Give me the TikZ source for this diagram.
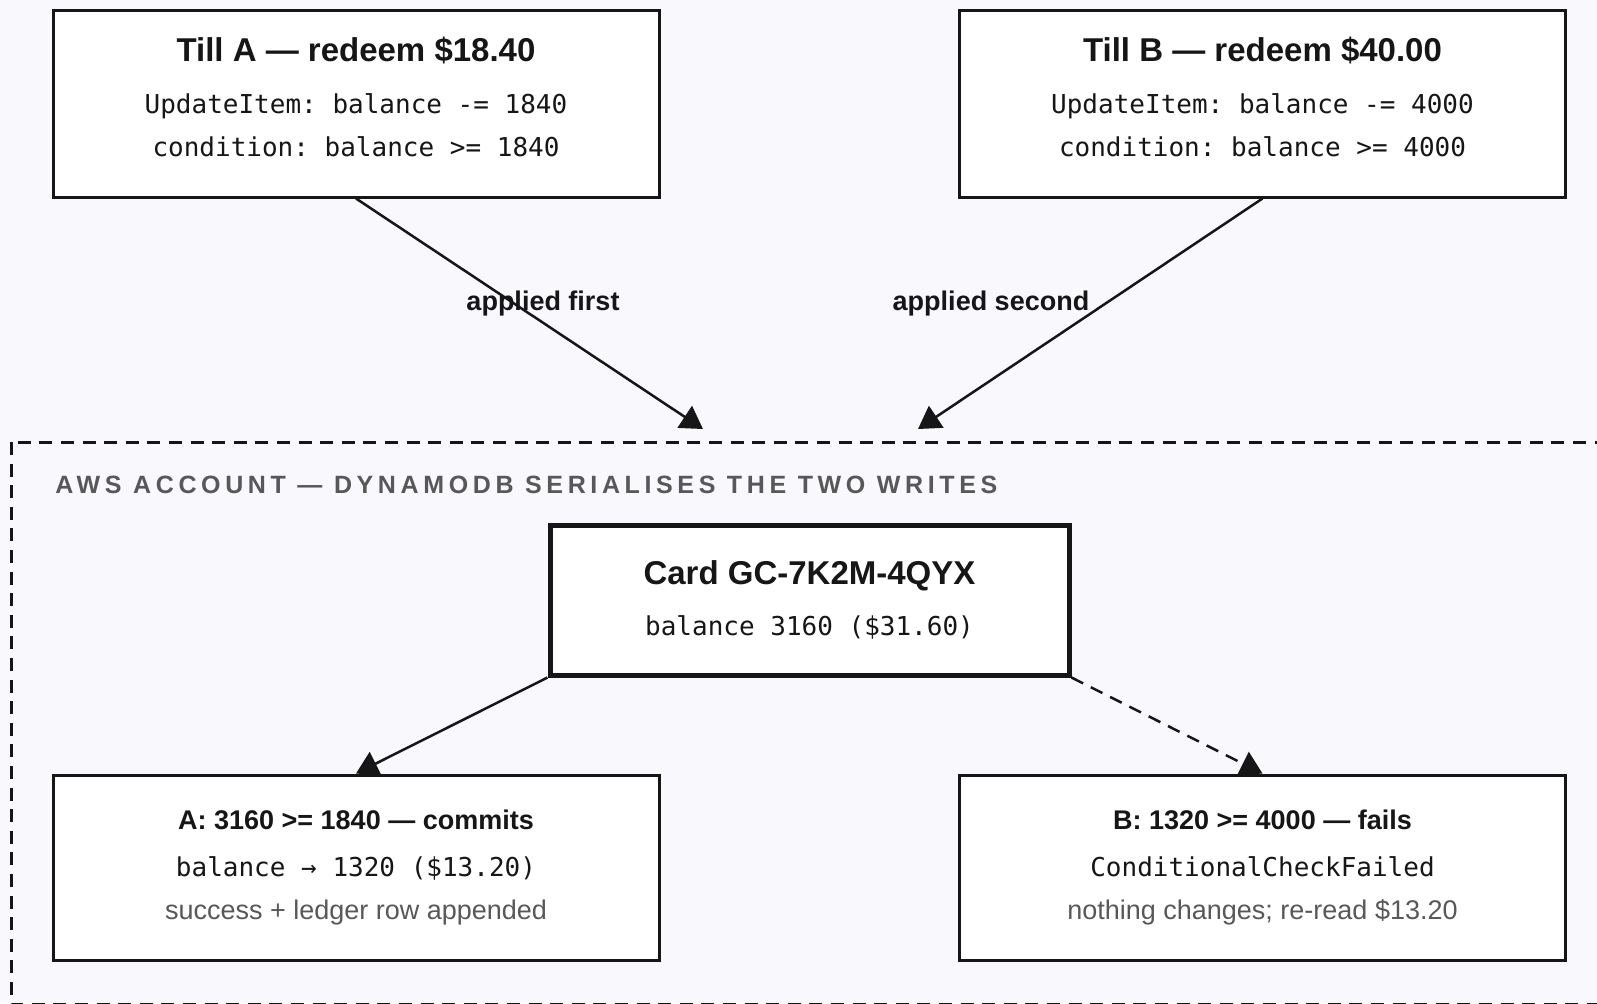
\documentclass[tikz,border=0pt]{standalone}
\usepackage{fontspec}
\setmainfont{Liberation Sans}
\setmonofont{DejaVu Sans Mono}
\newfontfamily\spacedfont[LetterSpace=18.5]{Liberation Sans}
\usetikzlibrary{arrows.meta}

\definecolor{pagebg}{RGB}{248,248,253}
\definecolor{ink}{RGB}{22,22,22}
\definecolor{note}{RGB}{88,88,88}

\newcommand\tilltitle[1]{{\rmfamily\bfseries\fontsize{16.5}{20}\selectfont #1}}
\newcommand\outcome[1]{{\rmfamily\bfseries\fontsize{13.5}{16}\selectfont #1}}
\newcommand\aside[1]{{\rmfamily\fontsize{13.5}{16}\selectfont\color{note}#1}}

\begin{document}
\begin{tikzpicture}[x=0.5pt, y=-0.5pt,
        box/.style={draw=ink, line width=1.5pt, fill=white, align=center,
            minimum width=303pt, text=ink,
            font=\ttfamily\fontsize{13}{21.5}\selectfont},
        till/.style={box, minimum height=93.5pt, text depth=6.5pt},
        card/.style={box, line width=2.5pt, minimum width=259.5pt,
            minimum height=75pt},
        result/.style={box, minimum height=92.5pt},
        flow/.style={draw=ink, line width=1.25pt,
            -{Triangle[length=11pt, width=13pt]}},
        tag/.style={text=ink, font=\bfseries\fontsize{13.5}{16}\selectfont}]
    \fill[pagebg] (0,0) rectangle (1597,1003);
    \clip (0,0) rectangle (1597,1003);

    % the account boundary
    \draw[ink, line width=1.5pt, dash pattern=on 6.5pt off 4.3pt]
        (11,442) rectangle (1640,1004.5);
    \node[anchor=west, inner sep=0pt, text=note] (aws) at (55,485)
        {\spacedfont\bfseries\fontsize{12.5}{15}\selectfont
         AWS ACCOUNT — DYNAMODB SERIALISES THE TWO WRITES};

    \node[till] (tillA) at (356,103.5)
        {\tilltitle{Till A — redeem \$18.40}\\[4.5pt]
         UpdateItem: balance -= 1840\\
         condition: balance >= 1840};
    \node[till] (tillB) at (1262.5,103.5)
        {\tilltitle{Till B — redeem \$40.00}\\[4.5pt]
         UpdateItem: balance -= 4000\\
         condition: balance >= 4000};

    \node[card] (card) at (809.5,600)
        {\tilltitle{Card GC-7K2M-4QYX}\\[4pt]
         balance 3160 (\$31.60)};

    \node[result] (resA) at (356,867.5)
        {\outcome{A: 3160 >= 1840 — commits}\\[2pt]
         balance → 1320 (\$13.20)\\
         \aside{success + ledger row appended}};
    \node[result] (resB) at (1262.5,867.5)
        {\outcome{B: 1320 >= 4000 — fails}\\[2pt]
         ConditionalCheckFailed\\
         \aside{nothing changes; re-read \$13.20}};

    \coordinate (inA) at (703,429);
    \coordinate (inB) at (918,429);

    \draw[flow] (tillA.south) -- (inA);
    \draw[flow] (tillB.south) -- (inB);
    \node[tag] (first) at (543,304) {applied first};
    \node[tag] (second) at (991,304) {applied second};

    \draw[flow] (card.south west) -- (resA.north);
    \draw[flow, dash pattern=on 6.5pt off 4.3pt] (card.south east) -- (resB.north);
\end{tikzpicture}
\end{document}
